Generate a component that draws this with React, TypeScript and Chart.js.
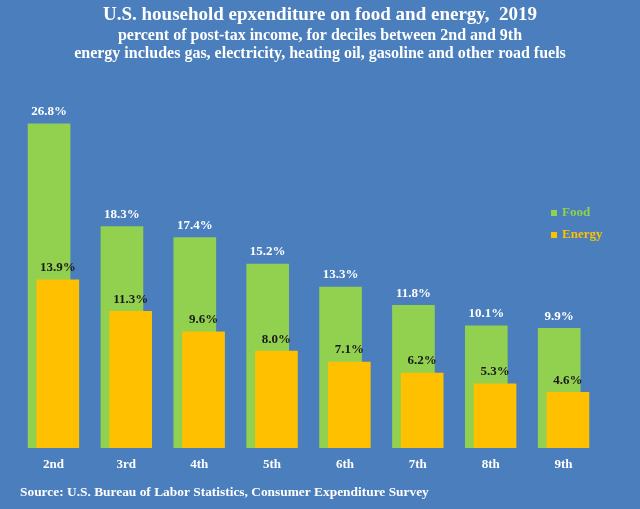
import React, { useEffect, useRef } from "react";
import { Chart, registerables } from "chart.js";

Chart.register(...registerables);

const categories = ["2nd", "3rd", "4th", "5th", "6th", "7th", "8th", "9th"];
const foodValues = [26.8, 18.3, 17.4, 15.2, 13.3, 11.8, 10.1, 9.9];
const energyValues = [13.9, 11.3, 9.6, 8.0, 7.1, 6.2, 5.3, 4.6];

const titleText = "U.S. household epxenditure on food and energy,  2019";
const subtitleLines = [
  "percent of post-tax income, for deciles between 2nd and 9th",
  "energy includes gas, electricity, heating oil, gasoline and other road fuels",
];
const sourceText = "Source: U.S. Bureau of Labor Statistics, Consumer Expenditure Survey";
const seriesNames = ["Food", "Energy"];

const BG = "#4a7ebc";
const GREEN = "#92d050";
const ORANGE = "#ffc000";
const SERIF = "'Liberation Serif', 'DejaVu Serif', serif";

export default function App() {
  const ref = useRef<HTMLCanvasElement | null>(null);

  useEffect(() => {
    if (!ref.current) return;

    const overlay = {
      id: "overlay",
      afterDatasetsDraw(chart: any) {
        const ctx = chart.ctx;
        ctx.save();
        ctx.textAlign = "center";
        ctx.textBaseline = "middle";
        ctx.font = `bold 13px ${SERIF}`;
        chart.data.datasets.forEach((ds: any, di: number) => {
          const meta = chart.getDatasetMeta(di);
          meta.data.forEach((el: any, i: number) => {
            const v = ds.data[i].y;
            ctx.fillStyle = ds.labelColor;
            ctx.fillText(v.toFixed(1) + "%", el.x, el.y - 12);
          });
        });
        // legend
        const legend = [
          { name: seriesNames[0], color: GREEN, y: 213 },
          { name: seriesNames[1], color: ORANGE, y: 235 },
        ];
        legend.forEach((l) => {
          ctx.fillStyle = l.color;
          ctx.fillRect(551, l.y - 3, 6, 6);
          ctx.textAlign = "left";
          ctx.font = `bold 13px ${SERIF}`;
          ctx.fillText(l.name, 562, l.y);
        });
        // source
        ctx.fillStyle = "#ffffff";
        ctx.textAlign = "left";
        ctx.font = `bold 13.4px ${SERIF}`;
        ctx.fillText(sourceText, 20, 493);
        ctx.restore();
      },
    };

    const chart = new Chart(ref.current, {
      type: "bar",
      data: {
        datasets: [
          {
            label: seriesNames[0],
            data: foodValues.map((v, i) => ({ x: i - 0.06, y: v })),
            backgroundColor: GREEN,
            order: 1,
            labelColor: "#ffffff",
          } as any,
          {
            label: seriesNames[1],
            data: energyValues.map((v, i) => ({ x: i + 0.06, y: v })),
            backgroundColor: ORANGE,
            order: 0,
            labelColor: "#1a1a1a",
          } as any,
        ],
      },
      options: {
        responsive: false,
        animation: false,
        devicePixelRatio: 1,
        layout: { padding: { left: 0, right: 0, top: 0, bottom: 27.4 } },
        datasets: { bar: { barThickness: 42, grouped: false } },
        plugins: {
          legend: { display: false },
          tooltip: { enabled: false },
          title: {
            display: true,
            text: titleText,
            color: "#ffffff",
            font: { family: SERIF, size: 19, weight: "bold", lineHeight: 1.2 },
            padding: { top: 3.6, bottom: 0 },
          },
          subtitle: {
            display: true,
            text: subtitleLines,
            color: "#ffffff",
            font: { family: SERIF, size: 16, weight: "bold", lineHeight: 1.125 },
            padding: { top: 0, bottom: 22.6 },
          },
        },
        scales: {
          x: {
            type: "linear",
            min: -0.7333,
            max: 8.0489,
            offset: false,
            grid: { display: false, drawTicks: false, offset: false },
            border: { display: false },
            afterBuildTicks: (axis: any) => {
              axis.ticks = categories.map((_, i) => ({ value: i }));
            },
            ticks: {
              color: "#ffffff",
              padding: 9,
              font: { family: SERIF, size: 13, weight: "bold", lineHeight: 1.2 },
              callback: (v: any) => categories[Math.round(Number(v))] ?? "",
              maxRotation: 0,
              autoSkip: false,
            },
          },
          y: {
            display: false,
            min: 0,
            max: 30,
          },
        },
      } as any,
      plugins: [overlay],
    });

    return () => chart.destroy();
  }, []);

  return (
    <div
      style={{
        position: "fixed",
        left: 0,
        top: 0,
        width: 640,
        height: 509,
        background: BG,
      }}
    >
      <canvas ref={ref} width={640} height={509} style={{ display: "block" }} />
    </div>
  );
}
